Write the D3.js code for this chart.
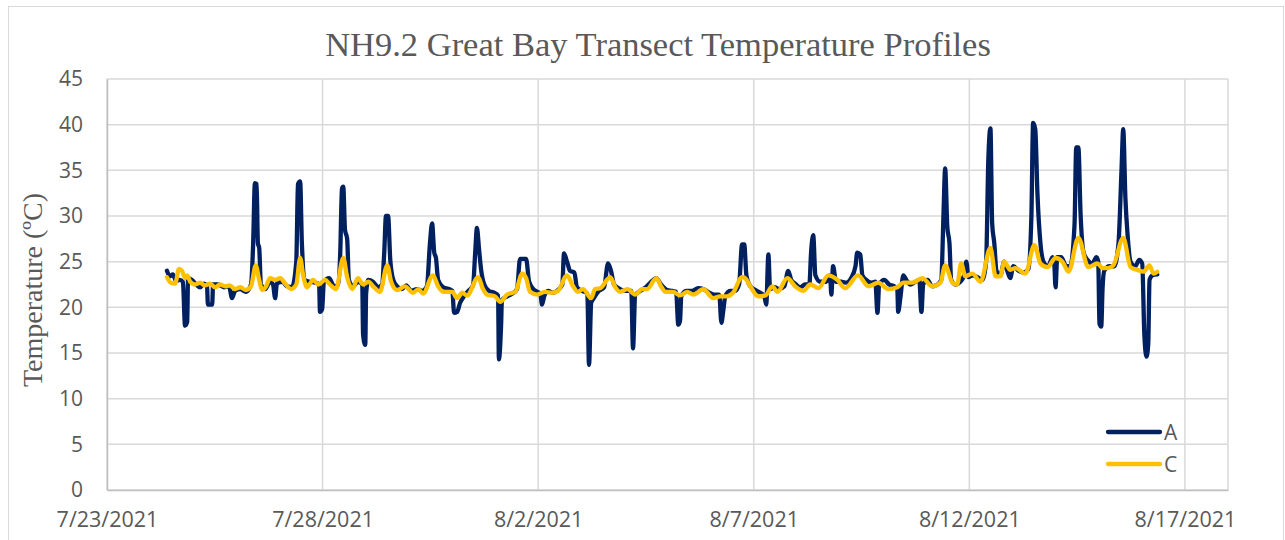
<!DOCTYPE html>
<html>
<head>
<meta charset="utf-8">
<script src="https://cdn.jsdelivr.net/npm/d3@7"></script>
<style>
  html, body { margin: 0; padding: 0; background: #fff; }
  svg { display: block; }
</style>
</head>
<body>
<svg id="chart" width="1285" height="540"></svg>
<script>
// ---- Data (time = days since 7/23/2021 00:00, value = °C) ----
const seriesNames = ["A", "C"];
const xTickLabels = ["7/23/2021", "7/28/2021", "8/2/2021", "8/7/2021", "8/12/2021", "8/17/2021"];
const yTickValues = [0, 5, 10, 15, 20, 25, 30, 35, 40, 45];

const seriesA = [
  [1.39,24.0],[1.46,23.4],[1.53,23.6],[1.60,22.9],[1.69,23.0],[1.76,22.8],[1.81,18.0],[1.86,18.4],[1.88,23.2],
  [1.97,23.0],[2.07,22.5],[2.16,22.2],[2.25,22.6],[2.32,22.4],[2.34,20.3],[2.44,20.3],[2.46,22.5],[2.58,22.5],
  [2.71,22.2],[2.83,22.3],[2.90,21.0],[2.97,21.8],[3.09,22.0],[3.22,21.7],[3.34,22.5],[3.39,27.0],[3.43,33.6],
  [3.47,33.5],[3.50,27.0],[3.53,26.5],[3.57,22.5],[3.67,22.0],[3.78,22.8],[3.85,22.5],[3.90,21.0],[3.94,22.6],
  [4.06,22.8],[4.18,22.3],[4.29,22.2],[4.39,25.0],[4.43,33.5],[4.48,33.8],[4.52,27.0],[4.59,23.0],[4.71,22.8],
  [4.83,22.7],[4.92,22.5],[4.94,19.5],[4.99,19.8],[5.03,22.8],[5.15,23.2],[5.27,22.3],[5.36,22.5],[5.41,26.0],
  [5.45,33.0],[5.48,33.2],[5.52,28.5],[5.57,27.5],[5.61,23.0],[5.71,22.3],[5.82,22.8],[5.92,22.5],[5.94,17.0],
  [5.99,15.9],[6.01,21.5],[6.06,23.0],[6.17,22.8],[6.29,22.2],[6.38,22.5],[6.43,26.0],[6.47,30.0],[6.52,30.0],
  [6.57,25.2],[6.64,23.0],[6.73,22.3],[6.84,22.0],[6.94,22.4],[7.05,21.8],[7.19,22.0],[7.31,21.8],[7.42,22.3],
  [7.49,27.0],[7.54,29.2],[7.59,26.0],[7.63,25.4],[7.68,23.0],[7.80,22.2],[7.94,22.0],[8.01,21.8],[8.05,19.4],
  [8.12,19.5],[8.19,20.5],[8.28,21.2],[8.38,21.8],[8.49,22.4],[8.54,26.0],[8.58,28.7],[8.63,26.3],[8.68,24.0],
  [8.75,22.5],[8.86,21.8],[8.98,21.6],[9.07,21.3],[9.09,14.3],[9.14,18.0],[9.16,20.8],[9.28,21.2],[9.40,21.5],
  [9.51,22.0],[9.58,25.3],[9.72,25.3],[9.79,22.8],[9.91,21.9],[10.05,21.5],[10.09,20.3],[10.14,21.2],[10.23,21.8],
  [10.35,21.6],[10.46,21.9],[10.56,22.5],[10.60,25.9],[10.67,25.0],[10.74,24.0],[10.84,23.8],[10.90,22.2],
  [11.02,21.8],[11.14,21.5],[11.18,13.7],[11.23,20.5],[11.29,21.0],[11.41,21.8],[11.53,22.2],[11.62,24.8],
  [11.69,24.0],[11.76,22.5],[11.90,22.0],[12.04,21.8],[12.16,21.8],[12.20,15.5],[12.25,21.3],[12.37,21.8],
  [12.50,22.2],[12.62,22.8],[12.74,23.2],[12.85,22.5],[12.99,21.9],[13.11,21.8],[13.20,21.7],[13.25,18.1],
  [13.29,18.5],[13.32,21.2],[13.43,21.8],[13.57,21.8],[13.71,22.1],[13.83,22.0],[13.94,21.7],[14.08,21.4],
  [14.20,21.4],[14.25,18.3],[14.29,19.5],[14.34,21.2],[14.45,21.8],[14.57,21.8],[14.66,22.5],[14.73,26.9],
  [14.78,26.9],[14.83,23.5],[14.92,22.3],[15.04,21.9],[15.15,21.6],[15.24,21.3],[15.29,20.3],[15.34,25.8],
  [15.38,22.0],[15.48,22.2],[15.59,22.0],[15.71,22.3],[15.80,24.0],[15.87,23.0],[15.96,22.6],[16.08,22.2],
  [16.19,22.5],[16.29,22.5],[16.33,26.0],[16.38,27.9],[16.43,23.5],[16.54,22.8],[16.68,22.8],[16.77,23.5],
  [16.80,21.4],[16.84,24.5],[16.91,22.8],[17.03,22.8],[17.15,22.7],[17.26,23.2],[17.36,24.5],[17.40,26.0],
  [17.47,25.8],[17.52,23.5],[17.61,23.0],[17.73,22.7],[17.82,22.8],[17.87,19.4],[17.91,22.5],[18.03,23.0],
  [18.14,22.5],[18.26,22.3],[18.33,22.0],[18.35,19.5],[18.40,21.0],[18.47,23.5],[18.54,23.0],[18.63,22.5],
  [18.75,22.8],[18.84,23.0],[18.89,19.5],[18.93,22.5],[19.03,23.0],[19.14,22.3],[19.26,22.5],[19.35,23.0],
  [19.40,30.0],[19.44,35.2],[19.49,28.8],[19.54,27.0],[19.58,23.0],[19.68,22.5],[19.79,22.8],[19.88,23.5],
  [19.93,25.0],[19.98,23.3],[20.07,23.5],[20.19,23.3],[20.30,23.0],[20.39,25.0],[20.44,36.0],[20.49,39.6],
  [20.53,29.2],[20.58,27.0],[20.63,24.0],[20.72,23.5],[20.81,25.0],[20.88,24.0],[20.95,23.2],[21.02,24.5],
  [21.14,24.0],[21.25,23.8],[21.37,24.2],[21.44,30.0],[21.48,40.2],[21.53,39.5],[21.58,32.5],[21.65,27.0],
  [21.72,25.0],[21.83,24.5],[21.93,25.5],[21.97,24.8],[22.00,22.2],[22.04,25.5],[22.13,25.5],[22.25,24.5],
  [22.34,24.5],[22.44,29.0],[22.48,37.5],[22.53,37.5],[22.58,30.3],[22.65,26.0],[22.74,25.2],[22.85,24.8],
  [22.95,25.5],[22.99,25.0],[23.02,18.2],[23.06,17.9],[23.09,22.0],[23.13,24.0],[23.25,24.5],[23.36,24.5],
  [23.46,27.0],[23.53,35.0],[23.57,39.5],[23.62,32.0],[23.67,28.0],[23.74,25.0],[23.85,24.5],[23.94,25.2],
  [24.01,24.8],[24.06,17.0],[24.11,14.6],[24.15,16.0],[24.18,23.0],[24.25,23.5],[24.36,23.6]
];

const seriesC = [
  [1.39,23.3],[1.48,22.7],[1.58,22.6],[1.67,24.2],[1.74,24.0],[1.81,23.2],[1.86,23.5],[1.93,22.8],[2.04,22.5],
  [2.16,22.7],[2.27,22.4],[2.39,22.6],[2.51,22.2],[2.62,22.5],[2.74,22.3],[2.85,22.4],[2.97,22.0],[3.09,22.2],
  [3.22,21.9],[3.34,22.3],[3.45,24.6],[3.53,23.0],[3.60,21.9],[3.69,22.3],[3.78,23.2],[3.90,23.0],[4.02,23.2],
  [4.13,22.6],[4.27,22.0],[4.39,22.5],[4.48,25.4],[4.55,23.5],[4.64,22.2],[4.78,23.0],[4.90,22.5],[5.06,23.0],
  [5.17,22.5],[5.31,22.0],[5.48,25.4],[5.57,23.3],[5.69,22.0],[5.82,23.2],[5.94,22.5],[6.06,22.8],[6.19,22.2],
  [6.33,21.7],[6.50,24.6],[6.59,22.8],[6.73,21.9],[6.91,22.3],[7.10,21.6],[7.22,22.0],[7.33,21.5],[7.56,23.5],
  [7.68,22.3],[7.80,21.7],[8.01,21.7],[8.12,21.0],[8.24,21.6],[8.35,21.3],[8.61,23.3],[8.72,22.0],[8.81,21.4],
  [9.00,21.2],[9.12,20.6],[9.28,21.4],[9.47,21.7],[9.63,23.7],[9.72,23.2],[9.81,21.7],[9.98,21.4],[10.16,21.7],
  [10.33,21.6],[10.46,21.8],[10.67,23.5],[10.81,22.3],[10.92,21.7],[11.04,22.0],[11.23,21.0],[11.32,22.0],
  [11.44,22.1],[11.67,23.3],[11.79,22.2],[11.90,21.7],[12.07,22.0],[12.25,21.4],[12.41,22.0],[12.53,22.0],
  [12.74,23.2],[12.85,22.3],[12.95,21.7],[13.13,21.7],[13.29,21.3],[13.46,21.7],[13.60,21.4],[13.83,22.0],
  [14.06,21.0],[14.22,21.2],[14.38,21.2],[14.52,21.6],[14.73,23.3],[14.80,23.2],[14.92,22.3],[15.10,21.2],
  [15.27,21.3],[15.43,22.3],[15.55,21.7],[15.78,23.2],[15.96,22.3],[16.15,21.8],[16.31,22.5],[16.50,22.1],
  [16.73,23.5],[16.94,23.0],[17.12,22.1],[17.42,23.5],[17.66,22.3],[17.89,22.7],[18.12,22.0],[18.33,22.2],
  [18.47,22.7],[18.68,22.7],[18.91,23.2],[19.14,22.3],[19.33,22.7],[19.44,24.6],[19.61,22.7],[19.72,22.5],
  [19.81,24.8],[19.91,23.4],[20.07,23.7],[20.26,22.8],[20.49,26.5],[20.61,23.4],[20.72,23.4],[20.81,25.0],
  [20.95,24.1],[21.07,24.3],[21.30,23.7],[21.51,26.8],[21.65,24.8],[21.81,24.4],[22.00,25.4],[22.16,25.0],
  [22.30,23.9],[22.53,27.6],[22.76,24.4],[22.97,24.8],[23.09,24.3],[23.20,24.3],[23.34,24.6],[23.57,27.6],
  [23.74,24.4],[23.90,24.1],[24.04,23.9],[24.18,24.6],[24.27,23.7],[24.36,23.9]
];

const colors = { A: "#002060", C: "#FFC000" };

// ---- Layout ----
const W = 1285, H = 540;
const margin = { left: 107, right: 1285 - 1228, top: 79, bottom: 540 - 490 };
const svg = d3.select("#chart");

const start = new Date(2021, 6, 23);
const end = new Date(2021, 7, 18);
const toDate = d => new Date(start.getTime() + d * 86400000);

const x = d3.scaleTime().domain([start, end]).range([margin.left, W - margin.right]);
const y = d3.scaleLinear().domain([0, 45]).range([H - margin.bottom, margin.top]);

const tickDates = xTickLabels.map(s => { const p = s.split("/"); return new Date(+p[2], +p[0] - 1, +p[1]); });

// outer chart border
svg.append("rect").attr("x", 8.5).attr("y", 6.5).attr("width", 1275).attr("height", 545)
  .attr("fill", "#fff").attr("stroke", "#d9d9d9").attr("stroke-width", 1);

const grid = svg.append("g");
grid.selectAll("line.h").data(yTickValues).join("line")
  .attr("x1", x.range()[0]).attr("x2", x.range()[1])
  .attr("y1", d => y(d)).attr("y2", d => y(d))
  .attr("stroke", "#d9d9d9").attr("stroke-width", 1.5);
grid.selectAll("line.v").data(tickDates.concat([end])).join("line")
  .attr("x1", d => x(d)).attr("x2", d => x(d))
  .attr("y1", y(0)).attr("y2", y(45))
  .attr("stroke", "#d9d9d9").attr("stroke-width", 1.5);

// axes
const tickFont = "'Open Sans', sans-serif";
const yAxis = d3.axisLeft(y).tickValues(yTickValues).tickSize(0).tickPadding(24);
const gy = svg.append("g").attr("transform", `translate(${margin.left},0)`).call(yAxis);
gy.select(".domain").attr("stroke", "#bfbfbf").attr("stroke-width", 1.5);
gy.selectAll("text").attr("font-family", tickFont).attr("font-size", 21).attr("fill", "#595959");

const xAxis = d3.axisBottom(x).tickValues(tickDates).tickSize(0).tickPadding(22)
  .tickFormat((d, i) => xTickLabels[i]);
const gx = svg.append("g").attr("transform", `translate(0,${y(0)})`).call(xAxis);
gx.select(".domain").attr("stroke", "#bfbfbf").attr("stroke-width", 1.5);
gx.selectAll("text").attr("font-family", tickFont).attr("font-size", 21.5).attr("fill", "#595959");

// lines
const line = d3.line().x(d => x(toDate(d[0]))).y(d => y(d[1])).curve(d3.curveMonotoneX);
const plot = svg.append("g");
[["A", seriesA], ["C", seriesC]].forEach(([name, data]) => {
  plot.append("path").datum(data).attr("d", line)
    .attr("fill", "none").attr("stroke", colors[name]).attr("stroke-width", 4.3)
    .attr("stroke-linejoin", "round").attr("stroke-linecap", "round");
});

// title
svg.append("text").attr("x", 658).attr("y", 56).attr("text-anchor", "middle")
  .attr("font-family", "'Liberation Serif', 'Times New Roman', serif").attr("font-size", 34.5)
  .attr("fill", "#595959").text("NH9.2 Great Bay Transect Temperature Profiles");

// y-axis title
svg.append("text").attr("transform", "translate(42,290) rotate(-90)").attr("text-anchor", "middle")
  .attr("font-family", "'Liberation Serif', 'Times New Roman', serif").attr("font-size", 28)
  .attr("fill", "#595959").text("Temperature (ºC)");

// legend
const legend = svg.append("g");
seriesNames.forEach((name, i) => {
  const ly = 432 + i * 32;
  legend.append("line").attr("x1", 1108).attr("x2", 1160).attr("y1", ly).attr("y2", ly)
    .attr("stroke", colors[name]).attr("stroke-width", 4.3).attr("stroke-linecap", "round");
  legend.append("text").attr("x", 1164).attr("y", ly).attr("dy", "0.36em")
    .attr("font-family", tickFont).attr("font-size", 21).attr("fill", "#595959").text(name);
});
</script>
</body>
</html>
